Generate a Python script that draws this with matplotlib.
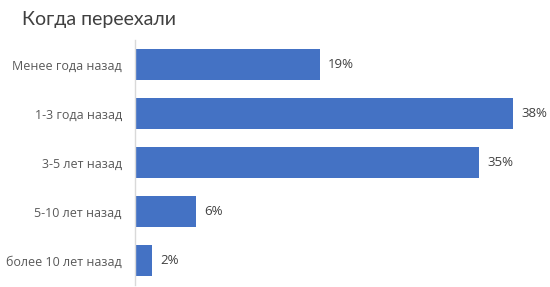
import matplotlib
matplotlib.use("Agg")
import matplotlib.pyplot as plt

# данные
categories = ["Менее года назад", "1-3 года назад", "3-5 лет назад",
              "5-10 лет назад", "более 10 лет назад"]
values = [18.6, 38.0, 34.6, 6.1, 1.7]
title = "Когда переехали"

plt.rcParams["font.family"] = ["Open Sans", "DejaVu Sans"]

fig = plt.figure(figsize=(5.5, 2.87), dpi=100)
ax = fig.add_axes([135 / 550, 2 / 287, 397.6 / 550, 245 / 287])

y = range(len(categories))
bars = ax.barh(y, values, height=0.63, color="#4472C4")
ax.bar_label(bars, labels=["%.0f%%" % v for v in values], padding=6,
             fontsize=9.5, color="#404040")

ax.set_xlim(0, 40)
ax.set_ylim(4.5, -0.5)
ax.set_yticks(list(y))
ax.set_yticklabels(categories, fontsize=9, color="#595959")
ax.tick_params(axis="y", length=0, pad=9.5)
ax.set_xticks([])

for s in ["top", "right", "bottom"]:
    ax.spines[s].set_visible(False)
ax.spines["left"].set_color("#D9D9D9")
ax.spines["left"].set_linewidth(1)

fig.text(22 / 550, 1 - 19 / 287, title, fontsize=14, color="#404040",
         va="center", ha="left", family="Lato")

fig.savefig("out.png", dpi=100)
